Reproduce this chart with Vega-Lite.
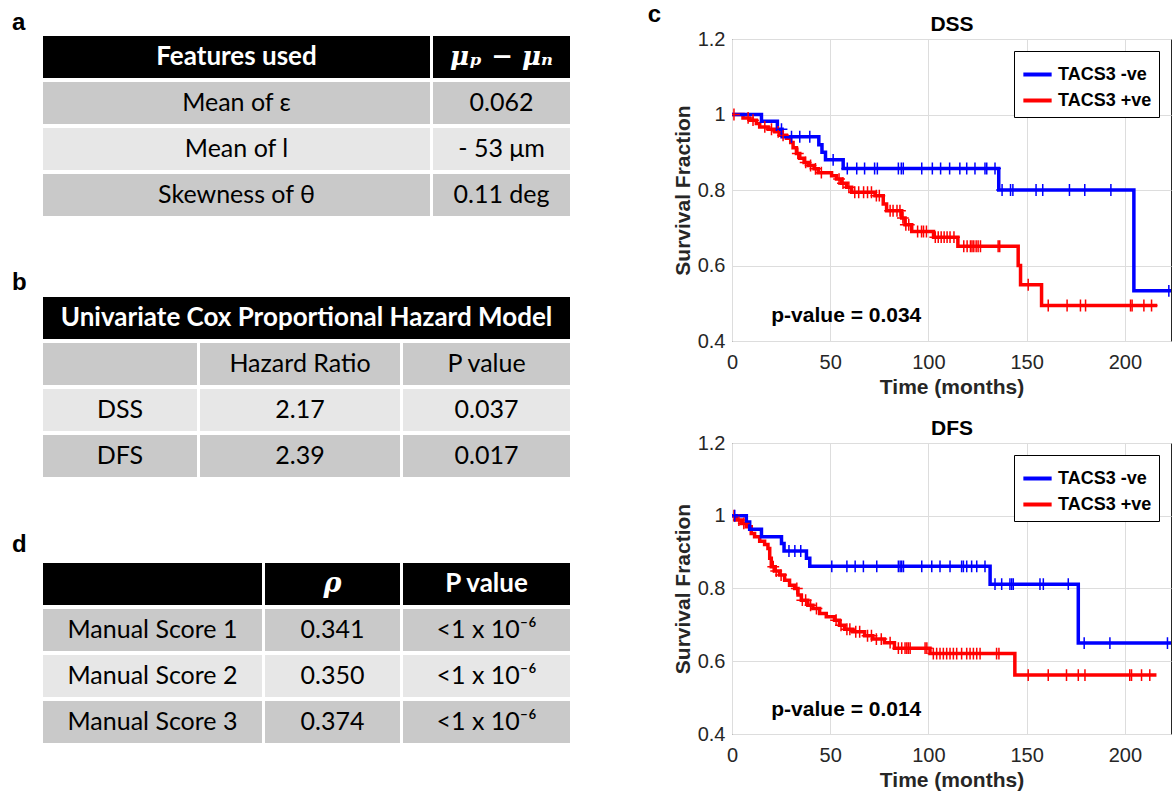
{
  "$schema": "https://vega.github.io/schema/vega-lite/v6.json",
  "padding": {"left": 12, "top": 2, "right": 0, "bottom": 0},
  "background": "white",
  "datasets": {
    "ta": [
      {"col": 1, "row": 0, "kind": "head", "text": "Features used"},
      {"col": 1, "row": 1, "kind": "dark", "text": "Mean of ε"},
      {"col": 1, "row": 2, "kind": "light", "text": "Mean of l"},
      {"col": 1, "row": 3, "kind": "dark", "text": "Skewness of θ"},
      {"col": 2, "row": 0, "kind": "head", "text": "μₚ − μₙ"},
      {"col": 2, "row": 1, "kind": "dark", "text": "0.062"},
      {"col": 2, "row": 2, "kind": "light", "text": "- 53  μm"},
      {"col": 2, "row": 3, "kind": "dark", "text": "0.11 deg"}
    ],
    "tb": [
      {"col": 1, "row": 0, "kind": "dark", "text": ""},
      {"col": 1, "row": 1, "kind": "light", "text": "DSS"},
      {"col": 1, "row": 2, "kind": "dark", "text": "DFS"},
      {"col": 2, "row": 0, "kind": "dark", "text": "Hazard Ratio"},
      {"col": 2, "row": 1, "kind": "light", "text": "2.17"},
      {"col": 2, "row": 2, "kind": "dark", "text": "2.39"},
      {"col": 3, "row": 0, "kind": "dark", "text": "P value"},
      {"col": 3, "row": 1, "kind": "light", "text": "0.037"},
      {"col": 3, "row": 2, "kind": "dark", "text": "0.017"}
    ],
    "td": [
      {"col": 1, "row": 0, "kind": "head", "text": ""},
      {"col": 1, "row": 1, "kind": "dark", "text": "Manual Score 1"},
      {"col": 1, "row": 2, "kind": "light", "text": "Manual Score 2"},
      {"col": 1, "row": 3, "kind": "dark", "text": "Manual Score 3"},
      {"col": 2, "row": 0, "kind": "head", "text": "ρ"},
      {"col": 2, "row": 1, "kind": "dark", "text": "0.341"},
      {"col": 2, "row": 2, "kind": "light", "text": "0.350"},
      {"col": 2, "row": 3, "kind": "dark", "text": "0.374"},
      {"col": 3, "row": 0, "kind": "head", "text": "P value"},
      {"col": 3, "row": 1, "kind": "dark", "text": "<1 x 10⁻⁶"},
      {"col": 3, "row": 2, "kind": "light", "text": "<1 x 10⁻⁶"},
      {"col": 3, "row": 3, "kind": "dark", "text": "<1 x 10⁻⁶"}
    ],
    "dssLine": [
      {"g": "TACS3 +ve", "t": 0, "s": 1}, {"g": "TACS3 +ve", "t": 5.6, "s": 0.991}, {"g": "TACS3 +ve", "t": 9, "s": 0.985}, {"g": "TACS3 +ve", "t": 12.4, "s": 0.976}, {"g": "TACS3 +ve", "t": 14.1, "s": 0.967}, {"g": "TACS3 +ve", "t": 18.4, "s": 0.961}, {"g": "TACS3 +ve", "t": 21.8, "s": 0.954}, {"g": "TACS3 +ve", "t": 24.3, "s": 0.945}, {"g": "TACS3 +ve", "t": 27.7, "s": 0.937}, {"g": "TACS3 +ve", "t": 29.9, "s": 0.926}, {"g": "TACS3 +ve", "t": 31.1, "s": 0.912}, {"g": "TACS3 +ve", "t": 32.8, "s": 0.897}, {"g": "TACS3 +ve", "t": 34.5, "s": 0.884}, {"g": "TACS3 +ve", "t": 36.7, "s": 0.873}, {"g": "TACS3 +ve", "t": 38.8, "s": 0.865}, {"g": "TACS3 +ve", "t": 41.8, "s": 0.856}, {"g": "TACS3 +ve", "t": 43.9, "s": 0.846}, {"g": "TACS3 +ve", "t": 50.7, "s": 0.838}, {"g": "TACS3 +ve", "t": 53.2, "s": 0.829}, {"g": "TACS3 +ve", "t": 55.8, "s": 0.818}, {"g": "TACS3 +ve", "t": 58.3, "s": 0.807}, {"g": "TACS3 +ve", "t": 60.9, "s": 0.794}, {"g": "TACS3 +ve", "t": 72.8, "s": 0.785}, {"g": "TACS3 +ve", "t": 77, "s": 0.763}, {"g": "TACS3 +ve", "t": 78.7, "s": 0.745}, {"g": "TACS3 +ve", "t": 86.4, "s": 0.726}, {"g": "TACS3 +ve", "t": 88.1, "s": 0.708}, {"g": "TACS3 +ve", "t": 91.5, "s": 0.69}, {"g": "TACS3 +ve", "t": 102.6, "s": 0.675}, {"g": "TACS3 +ve", "t": 115, "s": 0.651}, {"g": "TACS3 +ve", "t": 145.7, "s": 0.6}, {"g": "TACS3 +ve", "t": 146.9, "s": 0.549}, {"g": "TACS3 +ve", "t": 157.6, "s": 0.494}, {"g": "TACS3 +ve", "t": 216.5, "s": 0.494},
      {"g": "TACS3 -ve", "t": 0, "s": 1}, {"g": "TACS3 -ve", "t": 15, "s": 0.982}, {"g": "TACS3 -ve", "t": 23.1, "s": 0.961}, {"g": "TACS3 -ve", "t": 25.5, "s": 0.941}, {"g": "TACS3 -ve", "t": 44.2, "s": 0.92}, {"g": "TACS3 -ve", "t": 45.8, "s": 0.9}, {"g": "TACS3 -ve", "t": 47.6, "s": 0.88}, {"g": "TACS3 -ve", "t": 56.6, "s": 0.857}, {"g": "TACS3 -ve", "t": 135.8, "s": 0.8}, {"g": "TACS3 -ve", "t": 204.6, "s": 0.533}, {"g": "TACS3 -ve", "t": 223.5, "s": 0.533}
    ],
    "dssCens": [
      {"g": "TACS3 +ve", "t": 1, "s": 1}, {"g": "TACS3 +ve", "t": 8.2, "s": 0.991}, {"g": "TACS3 +ve", "t": 10.7, "s": 0.985}, {"g": "TACS3 +ve", "t": 16.7, "s": 0.967}, {"g": "TACS3 +ve", "t": 20.1, "s": 0.961}, {"g": "TACS3 +ve", "t": 23.5, "s": 0.954}, {"g": "TACS3 +ve", "t": 26, "s": 0.945}, {"g": "TACS3 +ve", "t": 33.5, "s": 0.897}, {"g": "TACS3 +ve", "t": 37.5, "s": 0.873}, {"g": "TACS3 +ve", "t": 40, "s": 0.865}, {"g": "TACS3 +ve", "t": 42.5, "s": 0.856}, {"g": "TACS3 +ve", "t": 45.5, "s": 0.846}, {"g": "TACS3 +ve", "t": 54.5, "s": 0.829}, {"g": "TACS3 +ve", "t": 56.5, "s": 0.818}, {"g": "TACS3 +ve", "t": 59.5, "s": 0.807}, {"g": "TACS3 +ve", "t": 62.5, "s": 0.794}, {"g": "TACS3 +ve", "t": 64.5, "s": 0.794}, {"g": "TACS3 +ve", "t": 67, "s": 0.794}, {"g": "TACS3 +ve", "t": 69, "s": 0.794}, {"g": "TACS3 +ve", "t": 71, "s": 0.794}, {"g": "TACS3 +ve", "t": 73.5, "s": 0.785}, {"g": "TACS3 +ve", "t": 75, "s": 0.785}, {"g": "TACS3 +ve", "t": 80.5, "s": 0.745}, {"g": "TACS3 +ve", "t": 82, "s": 0.745}, {"g": "TACS3 +ve", "t": 84, "s": 0.745}, {"g": "TACS3 +ve", "t": 85.5, "s": 0.745}, {"g": "TACS3 +ve", "t": 87, "s": 0.726}, {"g": "TACS3 +ve", "t": 88.5, "s": 0.708}, {"g": "TACS3 +ve", "t": 90, "s": 0.708}, {"g": "TACS3 +ve", "t": 94.5, "s": 0.69}, {"g": "TACS3 +ve", "t": 96.5, "s": 0.69}, {"g": "TACS3 +ve", "t": 97.5, "s": 0.69}, {"g": "TACS3 +ve", "t": 99, "s": 0.69}, {"g": "TACS3 +ve", "t": 103.5, "s": 0.675}, {"g": "TACS3 +ve", "t": 105, "s": 0.675}, {"g": "TACS3 +ve", "t": 106.5, "s": 0.675}, {"g": "TACS3 +ve", "t": 108, "s": 0.675}, {"g": "TACS3 +ve", "t": 109.5, "s": 0.675}, {"g": "TACS3 +ve", "t": 111, "s": 0.675}, {"g": "TACS3 +ve", "t": 113, "s": 0.675}, {"g": "TACS3 +ve", "t": 118, "s": 0.651}, {"g": "TACS3 +ve", "t": 119.7, "s": 0.651}, {"g": "TACS3 +ve", "t": 121.4, "s": 0.651}, {"g": "TACS3 +ve", "t": 122.2, "s": 0.651}, {"g": "TACS3 +ve", "t": 123.1, "s": 0.651}, {"g": "TACS3 +ve", "t": 124.3, "s": 0.651}, {"g": "TACS3 +ve", "t": 125.3, "s": 0.651}, {"g": "TACS3 +ve", "t": 126.5, "s": 0.651}, {"g": "TACS3 +ve", "t": 135.5, "s": 0.651}, {"g": "TACS3 +ve", "t": 136.3, "s": 0.651}, {"g": "TACS3 +ve", "t": 150.8, "s": 0.549}, {"g": "TACS3 +ve", "t": 161, "s": 0.494}, {"g": "TACS3 +ve", "t": 170.6, "s": 0.494}, {"g": "TACS3 +ve", "t": 177.4, "s": 0.494}, {"g": "TACS3 +ve", "t": 180, "s": 0.494}, {"g": "TACS3 +ve", "t": 202.9, "s": 0.494}, {"g": "TACS3 +ve", "t": 203.7, "s": 0.494}, {"g": "TACS3 +ve", "t": 209.7, "s": 0.494}, {"g": "TACS3 +ve", "t": 213.6, "s": 0.494},
      {"g": "TACS3 -ve", "t": 25.2, "s": 0.961}, {"g": "TACS3 -ve", "t": 30.3, "s": 0.941}, {"g": "TACS3 -ve", "t": 34.5, "s": 0.941}, {"g": "TACS3 -ve", "t": 39.6, "s": 0.941}, {"g": "TACS3 -ve", "t": 51.5, "s": 0.88}, {"g": "TACS3 -ve", "t": 58.7, "s": 0.857}, {"g": "TACS3 -ve", "t": 63.5, "s": 0.857}, {"g": "TACS3 -ve", "t": 67.5, "s": 0.857}, {"g": "TACS3 -ve", "t": 72.6, "s": 0.857}, {"g": "TACS3 -ve", "t": 74, "s": 0.857}, {"g": "TACS3 -ve", "t": 84.7, "s": 0.857}, {"g": "TACS3 -ve", "t": 86.2, "s": 0.857}, {"g": "TACS3 -ve", "t": 87.2, "s": 0.857}, {"g": "TACS3 -ve", "t": 96.6, "s": 0.857}, {"g": "TACS3 -ve", "t": 102, "s": 0.857}, {"g": "TACS3 -ve", "t": 106.2, "s": 0.857}, {"g": "TACS3 -ve", "t": 110.8, "s": 0.857}, {"g": "TACS3 -ve", "t": 116, "s": 0.857}, {"g": "TACS3 -ve", "t": 119.5, "s": 0.857}, {"g": "TACS3 -ve", "t": 123.7, "s": 0.857}, {"g": "TACS3 -ve", "t": 128.8, "s": 0.857}, {"g": "TACS3 -ve", "t": 129.7, "s": 0.857}, {"g": "TACS3 -ve", "t": 133.9, "s": 0.857}, {"g": "TACS3 -ve", "t": 137.5, "s": 0.8}, {"g": "TACS3 -ve", "t": 141.8, "s": 0.8}, {"g": "TACS3 -ve", "t": 143, "s": 0.8}, {"g": "TACS3 -ve", "t": 154.8, "s": 0.8}, {"g": "TACS3 -ve", "t": 158.2, "s": 0.8}, {"g": "TACS3 -ve", "t": 171.8, "s": 0.8}, {"g": "TACS3 -ve", "t": 179.6, "s": 0.8}, {"g": "TACS3 -ve", "t": 192.9, "s": 0.8}, {"g": "TACS3 -ve", "t": 222.4, "s": 0.533}
    ],
    "dfsLine": [
      {"g": "TACS3 +ve", "t": 0, "s": 1}, {"g": "TACS3 +ve", "t": 2.2, "s": 0.988}, {"g": "TACS3 +ve", "t": 4.7, "s": 0.979}, {"g": "TACS3 +ve", "t": 7.3, "s": 0.97}, {"g": "TACS3 +ve", "t": 9.8, "s": 0.951}, {"g": "TACS3 +ve", "t": 11.5, "s": 0.942}, {"g": "TACS3 +ve", "t": 14.1, "s": 0.93}, {"g": "TACS3 +ve", "t": 16.6, "s": 0.921}, {"g": "TACS3 +ve", "t": 18.3, "s": 0.91}, {"g": "TACS3 +ve", "t": 19.2, "s": 0.883}, {"g": "TACS3 +ve", "t": 20, "s": 0.86}, {"g": "TACS3 +ve", "t": 21.7, "s": 0.848}, {"g": "TACS3 +ve", "t": 24.2, "s": 0.837}, {"g": "TACS3 +ve", "t": 26.8, "s": 0.823}, {"g": "TACS3 +ve", "t": 29.3, "s": 0.809}, {"g": "TACS3 +ve", "t": 31.9, "s": 0.8}, {"g": "TACS3 +ve", "t": 33.6, "s": 0.782}, {"g": "TACS3 +ve", "t": 35.3, "s": 0.768}, {"g": "TACS3 +ve", "t": 38.6, "s": 0.754}, {"g": "TACS3 +ve", "t": 41.2, "s": 0.745}, {"g": "TACS3 +ve", "t": 44.6, "s": 0.731}, {"g": "TACS3 +ve", "t": 48, "s": 0.722}, {"g": "TACS3 +ve", "t": 52.2, "s": 0.713}, {"g": "TACS3 +ve", "t": 54.7, "s": 0.699}, {"g": "TACS3 +ve", "t": 57.3, "s": 0.688}, {"g": "TACS3 +ve", "t": 61.5, "s": 0.681}, {"g": "TACS3 +ve", "t": 67.5, "s": 0.67}, {"g": "TACS3 +ve", "t": 71.7, "s": 0.661}, {"g": "TACS3 +ve", "t": 77.6, "s": 0.651}, {"g": "TACS3 +ve", "t": 82.7, "s": 0.636}, {"g": "TACS3 +ve", "t": 100.8, "s": 0.621}, {"g": "TACS3 +ve", "t": 144, "s": 0.562}, {"g": "TACS3 +ve", "t": 216.1, "s": 0.562},
      {"g": "TACS3 -ve", "t": 0, "s": 1}, {"g": "TACS3 -ve", "t": 7.3, "s": 0.983}, {"g": "TACS3 -ve", "t": 9, "s": 0.963}, {"g": "TACS3 -ve", "t": 15, "s": 0.942}, {"g": "TACS3 -ve", "t": 25.2, "s": 0.924}, {"g": "TACS3 -ve", "t": 26.5, "s": 0.903}, {"g": "TACS3 -ve", "t": 37.9, "s": 0.883}, {"g": "TACS3 -ve", "t": 39.6, "s": 0.861}, {"g": "TACS3 -ve", "t": 131.4, "s": 0.812}, {"g": "TACS3 -ve", "t": 176.3, "s": 0.65}, {"g": "TACS3 -ve", "t": 223.5, "s": 0.65}
    ],
    "dfsCens": [
      {"g": "TACS3 +ve", "t": 1, "s": 1}, {"g": "TACS3 +ve", "t": 3.5, "s": 0.988}, {"g": "TACS3 +ve", "t": 6, "s": 0.979}, {"g": "TACS3 +ve", "t": 21, "s": 0.86}, {"g": "TACS3 +ve", "t": 22.5, "s": 0.848}, {"g": "TACS3 +ve", "t": 25, "s": 0.837}, {"g": "TACS3 +ve", "t": 33, "s": 0.8}, {"g": "TACS3 +ve", "t": 35.8, "s": 0.768}, {"g": "TACS3 +ve", "t": 37.5, "s": 0.768}, {"g": "TACS3 +ve", "t": 40, "s": 0.754}, {"g": "TACS3 +ve", "t": 43, "s": 0.745}, {"g": "TACS3 +ve", "t": 53, "s": 0.713}, {"g": "TACS3 +ve", "t": 55.5, "s": 0.699}, {"g": "TACS3 +ve", "t": 58.5, "s": 0.688}, {"g": "TACS3 +ve", "t": 60, "s": 0.688}, {"g": "TACS3 +ve", "t": 63, "s": 0.681}, {"g": "TACS3 +ve", "t": 65, "s": 0.681}, {"g": "TACS3 +ve", "t": 69, "s": 0.67}, {"g": "TACS3 +ve", "t": 71, "s": 0.67}, {"g": "TACS3 +ve", "t": 73.5, "s": 0.661}, {"g": "TACS3 +ve", "t": 76, "s": 0.661}, {"g": "TACS3 +ve", "t": 80.5, "s": 0.651}, {"g": "TACS3 +ve", "t": 84.7, "s": 0.636}, {"g": "TACS3 +ve", "t": 86.4, "s": 0.636}, {"g": "TACS3 +ve", "t": 88.1, "s": 0.636}, {"g": "TACS3 +ve", "t": 89, "s": 0.636}, {"g": "TACS3 +ve", "t": 89.8, "s": 0.636}, {"g": "TACS3 +ve", "t": 90.7, "s": 0.636}, {"g": "TACS3 +ve", "t": 98.3, "s": 0.636}, {"g": "TACS3 +ve", "t": 99.2, "s": 0.636}, {"g": "TACS3 +ve", "t": 102.5, "s": 0.621}, {"g": "TACS3 +ve", "t": 104.2, "s": 0.621}, {"g": "TACS3 +ve", "t": 105.9, "s": 0.621}, {"g": "TACS3 +ve", "t": 107.6, "s": 0.621}, {"g": "TACS3 +ve", "t": 109.3, "s": 0.621}, {"g": "TACS3 +ve", "t": 111, "s": 0.621}, {"g": "TACS3 +ve", "t": 112.7, "s": 0.621}, {"g": "TACS3 +ve", "t": 114.4, "s": 0.621}, {"g": "TACS3 +ve", "t": 116.9, "s": 0.621}, {"g": "TACS3 +ve", "t": 119.5, "s": 0.621}, {"g": "TACS3 +ve", "t": 121.2, "s": 0.621}, {"g": "TACS3 +ve", "t": 122.9, "s": 0.621}, {"g": "TACS3 +ve", "t": 124.6, "s": 0.621}, {"g": "TACS3 +ve", "t": 126.3, "s": 0.621}, {"g": "TACS3 +ve", "t": 134.7, "s": 0.621}, {"g": "TACS3 +ve", "t": 135.9, "s": 0.621}, {"g": "TACS3 +ve", "t": 150.8, "s": 0.562}, {"g": "TACS3 +ve", "t": 161, "s": 0.562}, {"g": "TACS3 +ve", "t": 170.3, "s": 0.562}, {"g": "TACS3 +ve", "t": 176.3, "s": 0.562}, {"g": "TACS3 +ve", "t": 179.7, "s": 0.562}, {"g": "TACS3 +ve", "t": 202.5, "s": 0.562}, {"g": "TACS3 +ve", "t": 203.4, "s": 0.562}, {"g": "TACS3 +ve", "t": 208.5, "s": 0.562}, {"g": "TACS3 +ve", "t": 212.7, "s": 0.562},
      {"g": "TACS3 -ve", "t": 1.4, "s": 1}, {"g": "TACS3 -ve", "t": 29, "s": 0.903}, {"g": "TACS3 -ve", "t": 32, "s": 0.903}, {"g": "TACS3 -ve", "t": 35, "s": 0.903}, {"g": "TACS3 -ve", "t": 50.8, "s": 0.861}, {"g": "TACS3 -ve", "t": 58.5, "s": 0.861}, {"g": "TACS3 -ve", "t": 62.7, "s": 0.861}, {"g": "TACS3 -ve", "t": 66.9, "s": 0.861}, {"g": "TACS3 -ve", "t": 73.7, "s": 0.861}, {"g": "TACS3 -ve", "t": 84.7, "s": 0.861}, {"g": "TACS3 -ve", "t": 85.6, "s": 0.861}, {"g": "TACS3 -ve", "t": 86.4, "s": 0.861}, {"g": "TACS3 -ve", "t": 87.3, "s": 0.861}, {"g": "TACS3 -ve", "t": 96.6, "s": 0.861}, {"g": "TACS3 -ve", "t": 101.7, "s": 0.861}, {"g": "TACS3 -ve", "t": 105.9, "s": 0.861}, {"g": "TACS3 -ve", "t": 111, "s": 0.861}, {"g": "TACS3 -ve", "t": 116.9, "s": 0.861}, {"g": "TACS3 -ve", "t": 117.8, "s": 0.861}, {"g": "TACS3 -ve", "t": 119.5, "s": 0.861}, {"g": "TACS3 -ve", "t": 122, "s": 0.861}, {"g": "TACS3 -ve", "t": 124.6, "s": 0.861}, {"g": "TACS3 -ve", "t": 128.8, "s": 0.861}, {"g": "TACS3 -ve", "t": 133.9, "s": 0.812}, {"g": "TACS3 -ve", "t": 137.3, "s": 0.812}, {"g": "TACS3 -ve", "t": 141.5, "s": 0.812}, {"g": "TACS3 -ve", "t": 142.4, "s": 0.812}, {"g": "TACS3 -ve", "t": 143.2, "s": 0.812}, {"g": "TACS3 -ve", "t": 156.8, "s": 0.812}, {"g": "TACS3 -ve", "t": 158.5, "s": 0.812}, {"g": "TACS3 -ve", "t": 171.2, "s": 0.812}, {"g": "TACS3 -ve", "t": 179.3, "s": 0.65}, {"g": "TACS3 -ve", "t": 192.4, "s": 0.65}, {"g": "TACS3 -ve", "t": 221.7, "s": 0.65}
    ]
  },
  "hconcat": [
    {
      "vconcat": [
        {
          "title": {"text": "a", "offset": 1},
          "hconcat": [
            {
              "width": 387, "height": 180,
              "data": {"name": "ta"},
              "transform": [{"filter": "datum.col == 1"}],
              "encoding": {"y": {"field": "row", "type": "ordinal", "axis": null, "scale": {"paddingInner": 0.09, "paddingOuter": 0, "range": [-3, 177]}}},
              "layer": [
                {"mark": {"type": "rect"}, "encoding": {"x": {"value": 0}, "x2": {"value": "width"}, "fill": {"field": "kind", "type": "nominal", "scale": {"domain": ["head", "dark", "light"], "range": ["#000000", "#c9c9c9", "#e7e7e7"]}, "legend": null}}},
                {"transform": [{"filter": "datum.kind == 'head'"}], "mark": {"type": "text", "font": "Lato", "fontSize": 26, "fontWeight": "bold", "color": "white"}, "encoding": {"text": {"field": "text"}}},
                {"transform": [{"filter": "datum.kind != 'head'"}], "mark": {"type": "text", "font": "Lato", "fontSize": 25, "color": "black"}, "encoding": {"text": {"field": "text"}}}
              ]
            },
            {
              "width": 137, "height": 180,
              "data": {"name": "ta"},
              "transform": [{"filter": "datum.col == 2"}],
              "encoding": {"y": {"field": "row", "type": "ordinal", "axis": null, "scale": {"paddingInner": 0.09, "paddingOuter": 0, "range": [-3, 177]}}},
              "layer": [
                {"mark": {"type": "rect"}, "encoding": {"x": {"value": 0}, "x2": {"value": "width"}, "fill": {"field": "kind", "type": "nominal", "scale": {"domain": ["head", "dark", "light"], "range": ["#000000", "#c9c9c9", "#e7e7e7"]}, "legend": null}}},
                {"transform": [{"filter": "datum.kind == 'head'"}], "mark": {"type": "text", "font": "DejaVu Serif", "fontSize": 26, "fontWeight": "bold", "fontStyle": "italic", "color": "white"}, "encoding": {"text": {"field": "text"}}},
                {"transform": [{"filter": "datum.kind != 'head'"}], "mark": {"type": "text", "font": "Lato", "fontSize": 25, "color": "black"}, "encoding": {"text": {"field": "text"}}}
              ]
            }
          ],
          "spacing": 3
        },
        {
          "vconcat": [
            {
              "title": {"text": "b", "offset": 2},
              "vconcat": [
                {
                  "width": 527, "height": 42,
                  "data": {"values": [{"text": "Univariate Cox Proportional Hazard Model"}]},
                  "layer": [
                    {"mark": {"type": "rect", "color": "black"}, "encoding": {"x": {"value": 0}, "x2": {"value": "width"}, "y": {"value": 0}, "y2": {"value": "height"}}},
                    {"mark": {"type": "text", "font": "Lato", "fontSize": 26, "fontWeight": "bold", "color": "white"}, "encoding": {"text": {"field": "text"}}}
                  ]
                },
                {
                  "hconcat": [
                    {
                      "width": 154, "height": 134,
                      "data": {"name": "tb"},
                      "transform": [{"filter": "datum.col == 1"}],
                      "encoding": {"y": {"field": "row", "type": "ordinal", "axis": null, "scale": {"paddingInner": 0.09, "paddingOuter": 0}}},
                      "layer": [
                        {"mark": {"type": "rect"}, "encoding": {"x": {"value": 0}, "x2": {"value": "width"}, "fill": {"field": "kind", "type": "nominal", "scale": {"domain": ["head", "dark", "light"], "range": ["#000000", "#c9c9c9", "#e7e7e7"]}, "legend": null}}},
                        {"mark": {"type": "text", "font": "Lato", "fontSize": 25, "color": "black"}, "encoding": {"text": {"field": "text"}}}
                      ]
                    },
                    {
                      "width": 200, "height": 134,
                      "data": {"name": "tb"},
                      "transform": [{"filter": "datum.col == 2"}],
                      "encoding": {"y": {"field": "row", "type": "ordinal", "axis": null, "scale": {"paddingInner": 0.09, "paddingOuter": 0}}},
                      "layer": [
                        {"mark": {"type": "rect"}, "encoding": {"x": {"value": 0}, "x2": {"value": "width"}, "fill": {"field": "kind", "type": "nominal", "scale": {"domain": ["head", "dark", "light"], "range": ["#000000", "#c9c9c9", "#e7e7e7"]}, "legend": null}}},
                        {"mark": {"type": "text", "font": "Lato", "fontSize": 25, "color": "black"}, "encoding": {"text": {"field": "text"}}}
                      ]
                    },
                    {
                      "width": 167, "height": 134,
                      "data": {"name": "tb"},
                      "transform": [{"filter": "datum.col == 3"}],
                      "encoding": {"y": {"field": "row", "type": "ordinal", "axis": null, "scale": {"paddingInner": 0.09, "paddingOuter": 0}}},
                      "layer": [
                        {"mark": {"type": "rect"}, "encoding": {"x": {"value": 0}, "x2": {"value": "width"}, "fill": {"field": "kind", "type": "nominal", "scale": {"domain": ["head", "dark", "light"], "range": ["#000000", "#c9c9c9", "#e7e7e7"]}, "legend": null}}},
                        {"mark": {"type": "text", "font": "Lato", "fontSize": 25, "color": "black"}, "encoding": {"text": {"field": "text"}}}
                      ]
                    }
                  ],
                  "spacing": 3
                }
              ],
              "spacing": 4
            },
            {
              "title": {"text": "d", "offset": 6},
              "hconcat": [
                {
                  "width": 219, "height": 180,
                  "data": {"name": "td"},
                  "transform": [{"filter": "datum.col == 1"}],
                  "encoding": {"y": {"field": "row", "type": "ordinal", "axis": null, "scale": {"paddingInner": 0.09, "paddingOuter": 0}}},
                  "layer": [
                    {"mark": {"type": "rect"}, "encoding": {"x": {"value": 0}, "x2": {"value": "width"}, "fill": {"field": "kind", "type": "nominal", "scale": {"domain": ["head", "dark", "light"], "range": ["#000000", "#c9c9c9", "#e7e7e7"]}, "legend": null}}},
                    {"transform": [{"filter": "datum.kind != 'head'"}], "mark": {"type": "text", "font": "Lato", "fontSize": 25, "color": "black"}, "encoding": {"text": {"field": "text"}}}
                  ]
                },
                {
                  "width": 135, "height": 180,
                  "data": {"name": "td"},
                  "transform": [{"filter": "datum.col == 2"}],
                  "encoding": {"y": {"field": "row", "type": "ordinal", "axis": null, "scale": {"paddingInner": 0.09, "paddingOuter": 0}}},
                  "layer": [
                    {"mark": {"type": "rect"}, "encoding": {"x": {"value": 0}, "x2": {"value": "width"}, "fill": {"field": "kind", "type": "nominal", "scale": {"domain": ["head", "dark", "light"], "range": ["#000000", "#c9c9c9", "#e7e7e7"]}, "legend": null}}},
                    {"transform": [{"filter": "datum.kind == 'head'"}], "mark": {"type": "text", "font": "DejaVu Serif", "fontSize": 27, "fontWeight": "bold", "fontStyle": "italic", "color": "white"}, "encoding": {"text": {"field": "text"}}},
                    {"transform": [{"filter": "datum.kind != 'head'"}], "mark": {"type": "text", "font": "Lato", "fontSize": 25, "color": "black"}, "encoding": {"text": {"field": "text"}}}
                  ]
                },
                {
                  "width": 167, "height": 180,
                  "data": {"name": "td"},
                  "transform": [{"filter": "datum.col == 3"}],
                  "encoding": {"y": {"field": "row", "type": "ordinal", "axis": null, "scale": {"paddingInner": 0.09, "paddingOuter": 0}}},
                  "layer": [
                    {"mark": {"type": "rect"}, "encoding": {"x": {"value": 0}, "x2": {"value": "width"}, "fill": {"field": "kind", "type": "nominal", "scale": {"domain": ["head", "dark", "light"], "range": ["#000000", "#c9c9c9", "#e7e7e7"]}, "legend": null}}},
                    {"transform": [{"filter": "datum.kind == 'head'"}], "mark": {"type": "text", "font": "Lato", "fontSize": 26, "fontWeight": "bold", "color": "white"}, "encoding": {"text": {"field": "text"}}},
                    {"transform": [{"filter": "datum.kind != 'head'"}], "mark": {"type": "text", "font": "Lato", "fontSize": 25, "color": "black"}, "encoding": {"text": {"field": "text"}}}
                  ]
                }
              ],
              "spacing": 3
            }
          ],
          "spacing": 56
        }
      ],
      "spacing": 52
    },
    {
      "title": {"text": "c", "dx": -24, "offset": -14},
      "vconcat": [
        {
          "width": 439, "height": 302,
          "view": {"stroke": "#262626", "strokeWidth": 1},
          "layer": [
            {
              "data": {"name": "dssLine"},
              "mark": {"type": "line", "interpolate": "step-after", "strokeWidth": 3.5, "clip": true},
              "encoding": {
                "x": {"field": "t", "type": "quantitative", "scale": {"domain": [0, 223.5], "nice": false, "zero": false},
                  "axis": {"values": [0, 50, 100, 150, 200], "grid": true, "gridColor": "#dddddd", "domain": false, "ticks": false, "labelFontSize": 20, "labelPadding": 11, "labelFlush": false, "title": "Time (months)", "titleFontSize": 21, "titleFontWeight": "bold", "titlePadding": 4}},
                "y": {"field": "s", "type": "quantitative", "scale": {"domain": [0.4, 1.2], "nice": false, "zero": false},
                  "axis": {"values": [0.4, 0.6, 0.8, 1, 1.2], "format": "~g", "grid": true, "gridColor": "#dddddd", "domain": false, "ticks": false, "labelFontSize": 20, "labelPadding": 7, "title": "Survival Fraction", "titleFontSize": 21, "titleFontWeight": "bold", "titlePadding": 4}},
                "color": {"field": "g", "type": "nominal", "scale": {"domain": ["TACS3 -ve", "TACS3 +ve"], "range": ["#0000ff", "#ff0000"]},
                  "legend": {"title": null, "orient": "top-right", "offset": 12, "symbolType": "stroke", "symbolStrokeWidth": 4, "symbolSize": 800, "labelFontSize": 18, "labelFontWeight": "bold", "labelColor": "black", "strokeColor": "black", "fillColor": "white", "padding": 7, "rowPadding": 0, "labelOffset": 4}}
              }
            },
            {
              "data": {"name": "dssCens"},
              "mark": {"type": "point", "shape": "M0,-1L0,1M-1,0L1,0", "filled": false, "size": 140, "strokeWidth": 1.5, "opacity": 1, "clip": true},
              "encoding": {
                "x": {"field": "t", "type": "quantitative", "axis": {"orient": "top", "labels": false, "ticks": false, "domain": false, "grid": false, "title": "DSS", "titleFontSize": 21, "titleFontWeight": "bold", "titleColor": "black", "titlePadding": 5}},
                "y": {"field": "s", "type": "quantitative"},
                "color": {"field": "g", "type": "nominal"}
              }
            },
            {
              "data": {"values": [{"label": "p-value = 0.034"}]},
              "mark": {"type": "text", "align": "left", "baseline": "middle", "fontSize": 21, "fontWeight": "bold", "color": "black"},
              "encoding": {"x": {"datum": 20, "axis": null}, "y": {"datum": 0.465}, "text": {"field": "label"}}
            }
          ],
          "resolve": {"axis": {"x": "independent"}}
        },
        {
          "width": 439, "height": 291,
          "view": {"stroke": "#262626", "strokeWidth": 1},
          "layer": [
            {
              "data": {"name": "dfsLine"},
              "mark": {"type": "line", "interpolate": "step-after", "strokeWidth": 3.5, "clip": true},
              "encoding": {
                "x": {"field": "t", "type": "quantitative", "scale": {"domain": [0, 223.5], "nice": false, "zero": false},
                  "axis": {"values": [0, 50, 100, 150, 200], "grid": true, "gridColor": "#dddddd", "domain": false, "ticks": false, "labelFontSize": 20, "labelPadding": 11, "labelFlush": false, "title": "Time (months)", "titleFontSize": 21, "titleFontWeight": "bold", "titlePadding": 4}},
                "y": {"field": "s", "type": "quantitative", "scale": {"domain": [0.4, 1.2], "nice": false, "zero": false},
                  "axis": {"values": [0.4, 0.6, 0.8, 1, 1.2], "format": "~g", "grid": true, "gridColor": "#dddddd", "domain": false, "ticks": false, "labelFontSize": 20, "labelPadding": 7, "title": "Survival Fraction", "titleFontSize": 21, "titleFontWeight": "bold", "titlePadding": 4}},
                "color": {"field": "g", "type": "nominal", "scale": {"domain": ["TACS3 -ve", "TACS3 +ve"], "range": ["#0000ff", "#ff0000"]},
                  "legend": {"title": null, "orient": "top-right", "offset": 12, "symbolType": "stroke", "symbolStrokeWidth": 4, "symbolSize": 800, "labelFontSize": 18, "labelFontWeight": "bold", "labelColor": "black", "strokeColor": "black", "fillColor": "white", "padding": 7, "rowPadding": 0, "labelOffset": 4}}
              }
            },
            {
              "data": {"name": "dfsCens"},
              "mark": {"type": "point", "shape": "M0,-1L0,1M-1,0L1,0", "filled": false, "size": 140, "strokeWidth": 1.5, "opacity": 1, "clip": true},
              "encoding": {
                "x": {"field": "t", "type": "quantitative", "axis": {"orient": "top", "labels": false, "ticks": false, "domain": false, "grid": false, "title": "DFS", "titleFontSize": 21, "titleFontWeight": "bold", "titleColor": "black", "titlePadding": 5}},
                "y": {"field": "s", "type": "quantitative"},
                "color": {"field": "g", "type": "nominal"}
              }
            },
            {
              "data": {"values": [{"label": "p-value = 0.014"}]},
              "mark": {"type": "text", "align": "left", "baseline": "middle", "fontSize": 21, "fontWeight": "bold", "color": "black"},
              "encoding": {"x": {"datum": 20, "axis": null}, "y": {"datum": 0.465}, "text": {"field": "label"}}
            }
          ],
          "resolve": {"axis": {"x": "independent"}}
        }
      ],
      "spacing": 18,
      "resolve": {"scale": {"color": "independent"}, "legend": {"color": "independent"}}
    }
  ],
  "spacing": 77,
  "config": {
    "view": {"stroke": null},
    "font": "Liberation Sans",
    "title": {"anchor": "start", "fontSize": 24, "fontWeight": "bold", "font": "Liberation Sans", "color": "black", "dx": -31, "offset": 5},
    "axis": {"labelFont": "Liberation Sans", "titleFont": "Liberation Sans", "labelColor": "#262626", "titleColor": "#262626"},
    "legend": {"labelFont": "Liberation Sans"},
    "text": {"font": "Liberation Sans"}
  }
}
